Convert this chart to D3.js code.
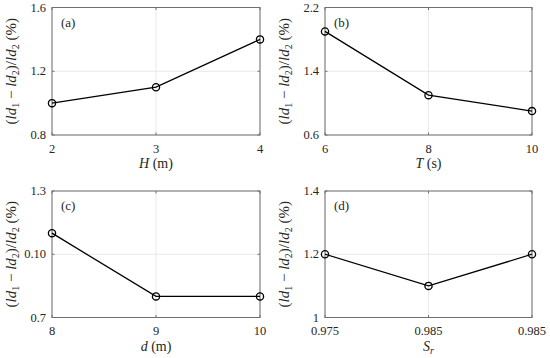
<!DOCTYPE html>
<html>
<head>
<meta charset="utf-8">
<script src="https://cdn.jsdelivr.net/npm/d3@7"></script>
</head>
<body style="margin:0; background:#fff">
<script>
var width = 550, height = 358;

// data
var hVals = ["2", "3", "4"], hDiff = [1.0, 1.1, 1.4];
var tVals = ["6", "8", "10"], tDiff = [1.9, 1.1, 0.9];
var dVals = ["8", "9", "10"], dDiff = [1.1, 0.8, 0.8];
var srVals = ["0.975", "0.985", "0.985"], srDiff = [1.2, 1.1, 1.2];

var hTicks = [0.8, 1.2, 1.6], hTickLabels = ["0.8", "1.2", "1.6"];
var tTicks = [0.6, 1.4, 2.2], tTickLabels = ["0.6", "1.4", "2.2"];
var dTicks = [0.7, 1.0, 1.3], dTickLabels = ["0.7", "0.10", "1.3"];
var srTicks = [1.0, 1.2, 1.4], srTickLabels = ["1", "1.2", "1.4"];

var panels = [
  { tag: "(a)", cats: hVals, vals: hDiff, ticks: hTicks, tickLabels: hTickLabels, xname: "H", unit: " (m)", box: [52, 7.5, 260, 135] },
  { tag: "(b)", cats: tVals, vals: tDiff, ticks: tTicks, tickLabels: tTickLabels, xname: "T", unit: " (s)", box: [325, 7.5, 532, 135] },
  { tag: "(c)", cats: dVals, vals: dDiff, ticks: dTicks, tickLabels: dTickLabels, xname: "d", unit: " (m)", box: [52, 191, 260, 317.5] },
  { tag: "(d)", cats: srVals, vals: srDiff, ticks: srTicks, tickLabels: srTickLabels, xname: "S", sub: "r", unit: "", box: [325, 191, 532, 317.5] }
];

var FONT = "'Liberation Serif'";

var svg = d3.select("body").append("svg")
    .attr("width", width)
    .attr("height", height);

function txt(sel) {
  return sel.append("text")
      .style("font-family", FONT)
      .style("fill", "#262626");
}

panels.forEach(function(p) {
  var x0 = p.box[0], y0 = p.box[1], x1 = p.box[2], y1 = p.box[3];
  var g = svg.append("g");

  // index based x so repeated labels (0.985) still get their own slot
  var x = d3.scalePoint().domain(d3.range(p.cats.length)).range([x0, x1]);
  var y = d3.scaleLinear().domain([p.ticks[0], p.ticks[p.ticks.length - 1]]).range([y1, y0]);

  // grid
  g.selectAll(".gx").data(d3.range(p.cats.length)).enter().append("line")
      .attr("x1", function(d) { return x(d); }).attr("x2", function(d) { return x(d); })
      .attr("y1", y0).attr("y2", y1)
      .attr("stroke", "#e3e3e3").attr("stroke-width", 0.8);
  g.selectAll(".gy").data(p.ticks).enter().append("line")
      .attr("x1", x0).attr("x2", x1)
      .attr("y1", function(d) { return y(d); }).attr("y2", function(d) { return y(d); })
      .attr("stroke", "#e3e3e3").attr("stroke-width", 0.8);

  // box
  g.append("rect")
      .attr("x", x0).attr("y", y0)
      .attr("width", x1 - x0).attr("height", y1 - y0)
      .attr("fill", "none").attr("stroke", "#707070").attr("stroke-width", 1);

  // tick marks (inward)
  g.selectAll(".ty").data(p.ticks).enter().append("path")
      .attr("d", function(d) { return "M" + x0 + "," + y(d) + "h2.5M" + x1 + "," + y(d) + "h-2.5"; })
      .attr("stroke", "#707070");
  g.selectAll(".tx").data(d3.range(p.cats.length)).enter().append("path")
      .attr("d", function(d) { return "M" + x(d) + "," + y1 + "v-2.5M" + x(d) + "," + y0 + "v2.5"; })
      .attr("stroke", "#707070");

  // tick labels
  p.ticks.forEach(function(t, i) {
    txt(g).attr("x", x0 - 6).attr("y", y(t) + 4)
        .attr("text-anchor", "end").style("font-size", "12.5px")
        .text(p.tickLabels[i]);
  });
  p.cats.forEach(function(c, i) {
    txt(g).attr("x", x(i)).attr("y", y1 + 17.5)
        .attr("text-anchor", "middle").style("font-size", "12.5px")
        .text(c);
  });

  // x label
  var xl = txt(g)
      .attr("x", (x0 + x1) / 2).attr("y", y1 + 33)
      .attr("text-anchor", "middle").style("font-size", "14px");
  xl.append("tspan").style("font-style", "italic").text(p.xname);
  if (p.sub) xl.append("tspan").style("font-style", "italic").style("font-size", "10px").attr("dy", 3).text(p.sub);
  if (p.unit) xl.append("tspan").text(p.unit);

  // y label
  var yl = txt(g)
      .attr("transform", "translate(" + (x0 - 36) + "," + ((y0 + y1) / 2) + ") rotate(-90)")
      .attr("text-anchor", "middle").style("font-size", "15px");
  yl.append("tspan").text("(");
  yl.append("tspan").style("font-style", "italic").text("ld");
  yl.append("tspan").style("font-size", "10px").attr("dy", 3).text("1");
  yl.append("tspan").attr("dy", -3).text(" \u2212 ");
  yl.append("tspan").style("font-style", "italic").text("ld");
  yl.append("tspan").style("font-size", "10px").attr("dy", 3).text("2");
  yl.append("tspan").attr("dy", -3).text(")/");
  yl.append("tspan").style("font-style", "italic").text("ld");
  yl.append("tspan").style("font-size", "10px").attr("dy", 3).text("2");
  yl.append("tspan").attr("dy", -3).text(" (%)");

  // panel tag
  txt(g).attr("x", x0 + 9).attr("y", y0 + 19)
      .style("font-size", "13px")
      .text(p.tag);

  // series
  var line = d3.line()
      .x(function(d, i) { return x(i); })
      .y(function(d) { return y(d); });
  g.append("path").datum(p.vals)
      .attr("d", line)
      .attr("fill", "none").attr("stroke", "#000").attr("stroke-width", 1.3);
  g.selectAll(".pt").data(p.vals).enter().append("circle")
      .attr("cx", function(d, i) { return x(i); })
      .attr("cy", function(d) { return y(d); })
      .attr("r", 3.6)
      .attr("fill", "none").attr("stroke", "#000").attr("stroke-width", 1.3);
});
</script>
</body>
</html>
